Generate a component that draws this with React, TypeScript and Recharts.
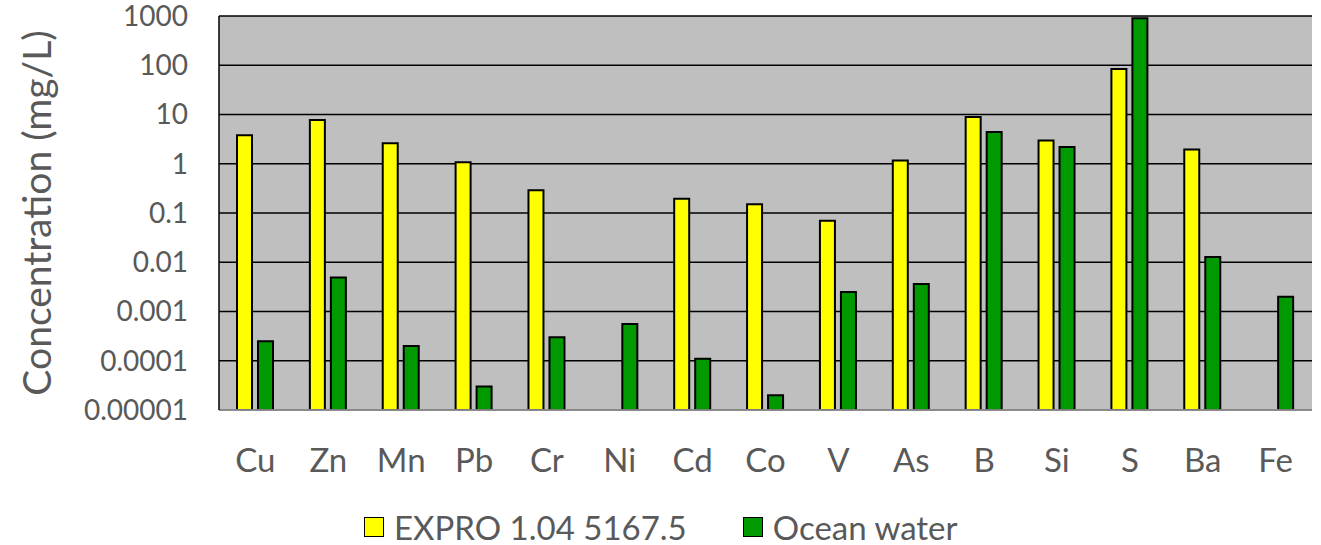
import React from 'react';
import { BarChart, Bar, XAxis, YAxis, CartesianGrid, Legend } from 'recharts';

const elements = ['Cu', 'Zn', 'Mn', 'Pb', 'Cr', 'Ni', 'Cd', 'Co', 'V', 'As', 'B', 'Si', 'S', 'Ba', 'Fe'];
const expro = [3.8, 7.7, 2.6, 1.07, 0.29, null, 0.195, 0.15, 0.07, 1.17, 8.9, 2.95, 84, 1.95, null];
const ocean = [0.00025, 0.0049, 0.0002, 0.00003, 0.0003, 0.00056, 0.00011, 0.00002, 0.0025, 0.0036, 4.4, 2.2, 900, 0.0128, 0.002];
const yTicks = [0.00001, 0.0001, 0.001, 0.01, 0.1, 1, 10, 100, 1000];

const seriesNames = { expro: 'EXPRO 1.04 5167.5', ocean: 'Ocean water' };
const colors = { expro: '#FFFF00', ocean: '#009900' };

const FONT = 'Lato, "Open Sans", sans-serif';
const TEXT = '#595959';

const data = elements.map((name, i) => ({ name, expro: expro[i], ocean: ocean[i] }));

const renderLegend = () => (
  <div style={{ display: 'flex', alignItems: 'center', fontFamily: FONT, fontSize: 33, lineHeight: '36px', color: TEXT, whiteSpace: 'nowrap' }}>
    {(['expro', 'ocean'] as const).map((key, i) => (
      <div key={key} style={{ display: 'flex', alignItems: 'center', marginLeft: i === 0 ? 0 : 56 }}>
        <span style={{ display: 'inline-block', width: 18, height: 18, background: colors[key], border: '1.5px solid #000', marginRight: 10 }} />
        <span>{seriesNames[key]}</span>
      </div>
    ))}
  </div>
);

const App: React.FC = () => {
  return (
    <div style={{ position: 'absolute', left: 0, top: 0, background: '#fff' }}>
      <BarChart
        width={1321}
        height={545}
        data={data}
        margin={{ top: 16, right: 9, left: 0, bottom: 0 }}
        barSize={15}
        barGap={6}
      >
        <CartesianGrid yAxisId="left" vertical={false} stroke="#000" strokeWidth={1.5} fill="#BFBFBF" fillOpacity={1} />
        <XAxis
          dataKey="name"
          height={135}
          axisLine={{ stroke: '#A6A6A6', strokeWidth: 1.5 }}
          tickLine={false}
          tickMargin={33}
          interval={0}
          tick={{ fill: TEXT, fontSize: 33, fontFamily: FONT }}
        />
        <YAxis
          yAxisId="left"
          width={219}
          scale="log"
          type="number"
          domain={[0.00001, 1000]}
          allowDataOverflow
          ticks={yTicks}
          interval={0}
          tickFormatter={(v) => String(v)}
          axisLine={{ stroke: '#000', strokeWidth: 1.5 }}
          tickLine={false}
          tickMargin={25}
          tick={{ fill: TEXT, fontSize: 28, fontFamily: FONT }}
          label={{
            content: ({ viewBox }: any) => (
              <text
                x={viewBox.x + 36}
                y={viewBox.y + viewBox.height / 2}
                transform={`rotate(-90, ${viewBox.x + 36}, ${viewBox.y + viewBox.height / 2})`}
                textAnchor="middle"
                dominantBaseline="central"
                fill={TEXT}
                fontSize={39}
                fontFamily={FONT}
              >
                Concentration (mg/L)
              </text>
            ),
          }}
        />
        <YAxis
          yAxisId="right"
          orientation="right"
          width={0}
          scale="log"
          type="number"
          domain={[0.00001, 1000]}
          allowDataOverflow
          tick={false}
          tickLine={false}
          axisLine={{ stroke: '#000', strokeWidth: 1.5 }}
        />
        <Legend
          layout="vertical"
          verticalAlign="middle"
          align="center"
          content={renderLegend}
          wrapperStyle={{ top: 509, left: 364, width: 'auto' }}
        />
        <Bar yAxisId="left" dataKey="expro" name={seriesNames.expro} fill={colors.expro} stroke="#000" strokeWidth={2} isAnimationActive={false} />
        <Bar yAxisId="left" dataKey="ocean" name={seriesNames.ocean} fill={colors.ocean} stroke="#000" strokeWidth={2} isAnimationActive={false} />
      </BarChart>
    </div>
  );
};

export default App;
